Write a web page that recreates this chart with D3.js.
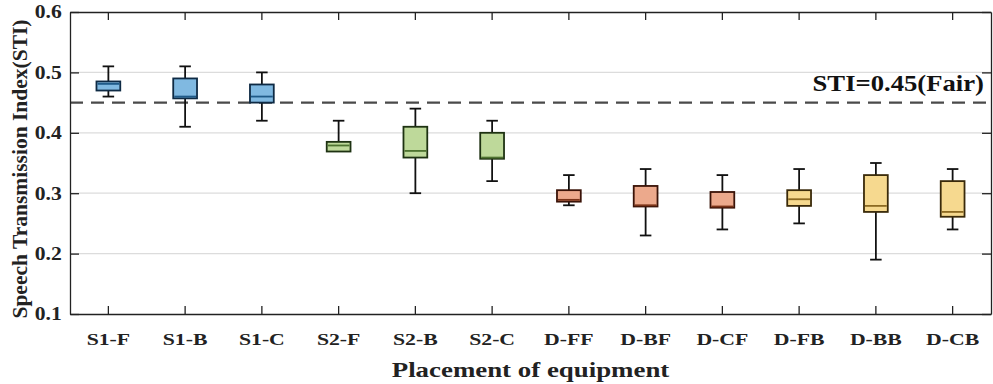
<!DOCTYPE html>
<html>
<head>
<meta charset="utf-8">
<script src="https://cdn.jsdelivr.net/npm/d3@7/dist/d3.min.js"></script>
<style>
  body { margin: 0; background: #fff; }
  svg text { font-family: "Liberation Serif", "Times New Roman", serif; font-weight: bold; fill: #222; }
</style>
</head>
<body>
<svg width="993" height="384"></svg>
<script>
// Категории и значения (min, q1, медиана, q3, max)
const categories = ["S1-F", "S1-B", "S1-C", "S2-F", "S2-B", "S2-C",
                    "D-FF", "D-BF", "D-CF", "D-FB", "D-BB", "D-CB"];
const mins    = [0.46, 0.41, 0.42, 0.37, 0.30, 0.32, 0.28, 0.23, 0.24, 0.25, 0.19, 0.24];
const q1s     = [0.47, 0.457, 0.45, 0.369, 0.359, 0.357, 0.286, 0.278, 0.276, 0.279, 0.269, 0.261];
const medians = [0.481, 0.46, 0.46, 0.379, 0.37, 0.359, 0.289, 0.28, 0.278, 0.29, 0.279, 0.269];
const q3s     = [0.485, 0.49, 0.48, 0.385, 0.41, 0.40, 0.305, 0.312, 0.302, 0.305, 0.33, 0.32];
const maxs    = [0.51, 0.51, 0.50, 0.42, 0.44, 0.42, 0.33, 0.34, 0.33, 0.34, 0.35, 0.34];
const groups  = [0, 0, 0, 1, 1, 1, 2, 2, 2, 3, 3, 3];
const yTicks  = [0.1, 0.2, 0.3, 0.4, 0.5, 0.6];
const threshold = 0.45;

// Палитра групп: заливка, контур, медиана
const fills   = ["#80b9e1", "#bed99a", "#eca98c", "#f6d98f"];
const strokes = ["#0e2a44", "#1e3212", "#3a1308", "#3a2a0a"];
const medCols = ["#1f5a88", "#4e7330", "#7a3318", "#8c6a22"];

const svg = d3.select("svg");
const margin = {left: 70, right: 2, top: 12, bottom: 70};
const width = +svg.attr("width");
const height = +svg.attr("height");
const x0 = margin.left, x1 = width - margin.right;
const y0 = height - margin.bottom, y1 = margin.top;

const x = d3.scaleBand().domain(categories).range([x0, x1]);
const y = d3.scaleLinear().domain([0.1, 0.6]).range([y0, y1]);

// Сетка
svg.append("g").selectAll("line").data(yTicks.slice(1, -1)).join("line")
    .attr("x1", x0).attr("x2", x1)
    .attr("y1", d => y(d)).attr("y2", d => y(d))
    .attr("stroke", "#dcdcdc").attr("stroke-width", 1.2);

// Пороговая линия
svg.append("line")
    .attr("x1", x0).attr("x2", x1)
    .attr("y1", y(threshold)).attr("y2", y(threshold))
    .attr("stroke", "#4a4a4a").attr("stroke-width", 2.2)
    .attr("stroke-dasharray", "13,8");

svg.append("text")
    .attr("transform", `translate(${x1 - 7},${y(threshold) - 12}) scale(1.16,1)`)
    .attr("text-anchor", "end").attr("font-size", 23)
    .style("fill", "#111")
    .text("STI=0.45(Fair)");

// Ящики
const bw = x.bandwidth() * 0.31;
const cw = x.bandwidth() * 0.15;
const boxes = svg.append("g").selectAll("g").data(categories).join("g")
    .attr("transform", d => `translate(${x(d) + x.bandwidth() / 2},0)`);

boxes.each(function(d, i) {
    const g = d3.select(this);
    const k = groups[i];
    // усы
    g.append("line").attr("x1", 0).attr("x2", 0)
        .attr("y1", y(maxs[i])).attr("y2", y(q3s[i]))
        .attr("stroke", "#111").attr("stroke-width", 1.8);
    g.append("line").attr("x1", 0).attr("x2", 0)
        .attr("y1", y(q1s[i])).attr("y2", y(mins[i]))
        .attr("stroke", "#111").attr("stroke-width", 1.8);
    g.append("line").attr("x1", -cw / 2).attr("x2", cw / 2)
        .attr("y1", y(maxs[i])).attr("y2", y(maxs[i]))
        .attr("stroke", "#111").attr("stroke-width", 1.8);
    g.append("line").attr("x1", -cw / 2).attr("x2", cw / 2)
        .attr("y1", y(mins[i])).attr("y2", y(mins[i]))
        .attr("stroke", "#111").attr("stroke-width", 1.8);
    // коробка
    g.append("rect")
        .attr("x", -bw / 2).attr("width", bw)
        .attr("y", y(q3s[i])).attr("height", y(q1s[i]) - y(q3s[i]))
        .attr("fill", fills[k]).attr("stroke", strokes[k]).attr("stroke-width", 1.8);
    // медиана
    g.append("line").attr("x1", -bw / 2 + 1).attr("x2", bw / 2 - 1)
        .attr("y1", y(medians[i])).attr("y2", y(medians[i]))
        .attr("stroke", medCols[k]).attr("stroke-width", 1.8);
});

// Оси
const axisL = svg.append("g").attr("transform", `translate(${x0},0)`)
    .call(d3.axisLeft(y).tickValues(yTicks).tickFormat(d3.format(".1f")).tickSizeInner(-9).tickSizeOuter(0).tickPadding(7));
const axisR = svg.append("g").attr("transform", `translate(${x1},0)`)
    .call(d3.axisRight(y).tickValues(yTicks).tickFormat("").tickSizeInner(-9).tickSizeOuter(0));
const axisB = svg.append("g").attr("transform", `translate(0,${y0})`)
    .call(d3.axisBottom(x).tickSizeInner(-8).tickSizeOuter(0).tickPadding(19));
const axisT = svg.append("g").attr("transform", `translate(0,${y1})`)
    .call(d3.axisTop(x).tickFormat("").tickSizeInner(-8).tickSizeOuter(0));

[axisL, axisR, axisB, axisT].forEach(a => {
    a.select(".domain").attr("stroke", "#222").attr("stroke-width", 1.3);
    a.selectAll(".tick line").attr("stroke", "#222").attr("stroke-width", 1.3);
    a.selectAll("text").style("fill", "#222")
        .attr("font-family", "Liberation Serif").attr("font-weight", "bold");
});
// растянутые по горизонтали подписи делений, как на исходнике
axisL.selectAll("text").attr("font-size", 18.5).attr("transform", "scale(1.17,1)");
axisB.selectAll("text").attr("font-size", 17).attr("transform", "scale(1.28,1)");

// Подписи осей
svg.append("text")
    .attr("transform", `translate(${(x0 + x1) / 2},377) scale(1.25,1)`)
    .attr("text-anchor", "middle").attr("font-size", 21.5)
    .text("Placement of equipment");

svg.append("text")
    .attr("transform", `translate(27,${(y0 + y1) / 2 + 6}) rotate(-90)`)
    .attr("text-anchor", "middle").attr("font-size", 21.5)
    .text("Speech Transmission Index(STI)");
</script>
</body>
</html>
